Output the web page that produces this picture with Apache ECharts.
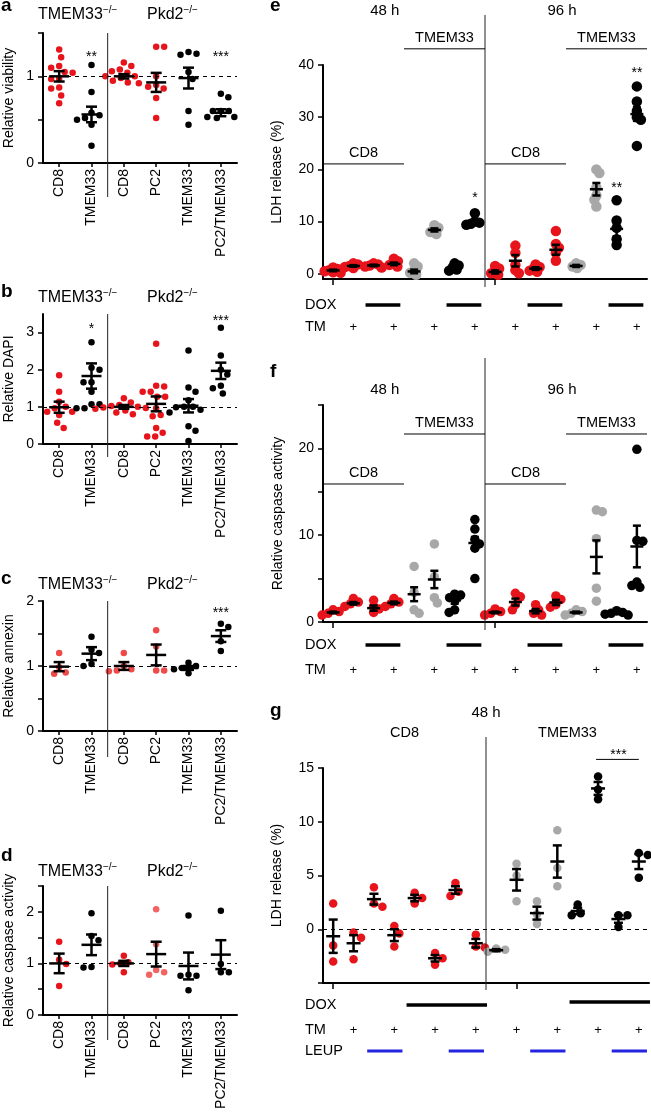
<!DOCTYPE html>
<html><head><meta charset="utf-8">
<script src="https://cdn.jsdelivr.net/npm/echarts@6/dist/echarts.min.js"></script>
<style>html,body{margin:0;padding:0;background:#fff}#c{width:651px;height:1118px}</style>
</head><body><div id="c"></div>
<script>
// ================= DATA =================
const leftCategories = ['CD8', 'TMEM33', 'CD8', 'PC2', 'TMEM33', 'PC2/TMEM33'];

// a: Relative viability
const aPoints = [
  [1.31, 1.22, 1.12, 1.10, 1.05, 1.04, 0.97, 0.97, 0.87, 0.86, 0.78, 0.69],
  [1.13, 0.82, 0.58, 0.55, 0.52, 0.50, 0.44, 0.20],
  [1.16, 1.12, 1.08, 1.06, 1.04, 1.00, 1.00, 0.98, 0.95, 0.93, 0.92],
  [1.34, 1.34, 1.00, 0.90, 0.88, 0.86, 0.75, 0.52],
  [1.28, 1.26, 1.25, 1.05, 0.97, 0.60, 0.44],
  [0.80, 0.76, 0.60, 0.60, 0.60, 0.53, 0.53, 0.52]
];
const aMean = [1.00, 0.56, 1.00, 0.93, 0.98, 0.58];
const aSem = [0.06, 0.09, 0.025, 0.11, 0.12, 0.04];
const aTicks = [0, 0.5, 1, 1.5];
const aTickLabels = [0, 1];

// b: Relative DAPI
const bPoints = [
  [1.85, 1.41, 1.14, 1.00, 0.96, 0.87, 0.87, 0.78, 0.57, 0.43],
  [2.74, 2.05, 2.0, 1.66, 1.66, 1.41, 1.07, 1.07, 0.96, 0.96],
  [1.23, 1.12, 1.05, 1.02, 1.00, 0.98, 0.97, 0.95, 0.90, 0.85, 0.80],
  [2.70, 1.57, 1.55, 1.41, 1.41, 1.27, 1.27, 0.96, 0.78, 0.75, 0.43, 0.30, 0.20, 0.20],
  [2.52, 1.52, 1.41, 1.18, 1.00, 1.00, 0.99, 0.92, 0.85, 0.48, 0.36, 0.08],
  [3.13, 2.38, 2.00, 1.87, 1.57, 1.50, 1.36]
];
const bMean = [0.99, 1.83, 1.00, 1.08, 1.03, 1.97];
const bSem = [0.15, 0.34, 0.05, 0.2, 0.18, 0.22];
const bTicks = [0, 1, 2, 3];
const bTickLabels = [0, 1, 2, 3];

// c: Relative annexin
const cPoints = [
  [1.20, 0.98, 0.90, 0.88],
  [1.45, 1.25, 1.20, 1.03, 1.00],
  [1.20, 1.00, 0.95, 0.93, 0.92],
  [1.55, 1.30, 0.93, 0.93],
  [1.05, 1.00, 0.97, 0.95, 0.89],
  [1.65, 1.60, 1.38, 1.23]
];
const cMean = [0.99, 1.19, 1.00, 1.17, 0.97, 1.46];
const cSem = [0.07, 0.1, 0.06, 0.16, 0.03, 0.09];
const cTicks = [0, 0.5, 1, 1.5, 2];
const cTickLabels = [0, 1, 2];

// d: Relative caspase activity
const dPoints = [
  [1.42, 1.07, 0.99, 0.56],
  [1.97, 1.53, 1.45, 0.93, 0.92],
  [1.15, 1.02, 1.00, 0.98, 0.83],
  [2.05, 1.37, 0.87, 0.83, 0.78],
  [1.93, 0.78, 0.76, 0.76, 0.48],
  [2.02, 0.99, 0.83, 0.83]
];
const dMean = [1.00, 1.36, 1.00, 1.18, 0.95, 1.17];
const dSem = [0.19, 0.2, 0.05, 0.24, 0.26, 0.28];
const dTicks = [0, 0.5, 1, 1.5, 2, 2.5];
const dTickLabels = [0, 1, 2];

// e, f: 16 conditions (48 h / 96 h, CD8 / TMEM33, DOX, TM)
const rightCategories = [
  'CD8 48h', 'CD8 48h TM', 'CD8 48h DOX', 'CD8 48h DOX TM',
  'TMEM33 48h', 'TMEM33 48h TM', 'TMEM33 48h DOX', 'TMEM33 48h DOX TM',
  'CD8 96h', 'CD8 96h TM', 'CD8 96h DOX', 'CD8 96h DOX TM',
  'TMEM33 96h', 'TMEM33 96h TM', 'TMEM33 96h DOX', 'TMEM33 96h DOX TM'
];
const rightConstruct = ['CD8','CD8','CD8','CD8','TMEM33','TMEM33','TMEM33','TMEM33',
                        'CD8','CD8','CD8','CD8','TMEM33','TMEM33','TMEM33','TMEM33'];
const rightDox = [0,0,1,1,0,0,1,1,0,0,1,1,0,0,1,1];
const rightTm  = [0,1,0,1,0,1,0,1,0,1,0,1,0,1,0,1];

// e: LDH release (%)
const ePoints = [
  [1.2, 0.9, 0.7, 0.5, 0.3, 0.2],
  [2.0, 1.8, 1.5, 1.3, 1.1],
  [2.0, 1.8, 1.6, 1.4, 1.2],
  [2.9, 2.4, 2.0, 1.7, 1.4],
  [2.0, 1.4, 0.6, 0.2, -0.2],
  [9.3, 8.8, 8.4, 8.0, 7.6],
  [2.0, 1.6, 1.2, 0.8, 0.6],
  [11.6, 10.0, 9.8, 9.6, 9.4],
  [1.5, 1.0, 0.5, 0.1, -0.2],
  [5.4, 4.0, 1.7, 0.7, 0.1],
  [1.8, 1.3, 1.0, 0.6, 0.4],
  [8.2, 5.7, 5.0, 4.0, 2.5],
  [2.0, 1.7, 1.4, 1.1],
  [20.0, 19.3, 16.5, 15.0, 14.2, 12.9],
  [14.1, 10.2, 8.8, 6.6, 5.5],
  [35.9, 33.0, 31.2, 30.0, 29.5, 24.5]
];
const eMean = [0.64, 1.5, 1.6, 1.9, 0.45, 8.4, 1.1, 9.8, 0.35, 2.5, 1.0, 4.6, 1.5, 16.2, 8.6, 30.6];
const eSem = [0.15, 0.15, 0.15, 0.25, 0.35, 0.3, 0.25, 0.4, 0.3, 1.1, 0.25, 0.95, 0.2, 1.2, 1.4, 1.3];
const eTicks = [0, 10, 20, 30, 40];
const eTickLabels = [0, 10, 20, 30, 40];

// f: Relative caspase activity
const fPoints = [
  [1.4, 1.2, 1.0, 0.8],
  [2.7, 2.3, 2.1, 1.8],
  [2.5, 1.8, 1.5, 1.1],
  [2.7, 2.3, 2.1, 1.8],
  [6.4, 3.4, 1.4, 1.0],
  [9.0, 5.2, 2.8, 2.2],
  [3.2, 3.1, 2.8, 2.5, 1.4, 1.1],
  [11.8, 10.7, 9.5, 9.0, 8.5, 5.0],
  [1.5, 1.2, 1.0, 0.8],
  [3.3, 2.9, 2.0, 1.4],
  [2.0, 1.4, 1.0, 0.8],
  [3.0, 2.6, 2.0, 1.7],
  [1.4, 1.2, 1.0, 0.8],
  [12.9, 12.7, 9.6, 3.9, 2.4],
  [1.3, 1.1, 1.0, 0.9, 0.8],
  [19.9, 9.4, 9.3, 4.6, 4.2, 4.0]
];
const fMean = [1.1, 2.15, 1.6, 2.2, 3.2, 4.9, 2.5, 9.1, 1.1, 2.3, 1.25, 2.25, 1.1, 7.5, 1.0, 8.7];
const fSem = [0.1, 0.15, 0.3, 0.15, 0.8, 1.0, 0.4, 0.7, 0.1, 0.4, 0.25, 0.3, 0.1, 1.9, 0.1, 2.4];
const fTicks = [0, 5, 10, 15, 20, 25];
const fTickLabels = [0, 10, 20];

// g: 48 h, CD8 / TMEM33, TM, LEUP, DOX
const gCategories = [
  'CD8', 'CD8 TM', 'CD8 LEUP', 'CD8 TM LEUP', 'CD8 DOX', 'CD8 DOX TM', 'CD8 DOX LEUP', 'CD8 DOX TM LEUP',
  'TMEM33', 'TMEM33 TM', 'TMEM33 LEUP', 'TMEM33 TM LEUP', 'TMEM33 DOX', 'TMEM33 DOX TM', 'TMEM33 DOX LEUP', 'TMEM33 DOX TM LEUP'
];
const gConstruct = ['CD8','CD8','CD8','CD8','CD8','CD8','CD8','CD8',
                    'TMEM33','TMEM33','TMEM33','TMEM33','TMEM33','TMEM33','TMEM33','TMEM33'];
const gDox  = [0,0,0,0,1,1,1,1,0,0,0,0,1,1,1,1];
const gTm   = [0,1,0,1,0,1,0,1,0,1,0,1,0,1,0,1];
const gLeup = [0,0,1,1,0,0,1,1,0,0,1,1,0,0,1,1];
const gPoints = [
  [2.4, -1.5, -3.0],
  [-0.3, -0.8, -2.8],
  [3.9, 2.4, 2.1],
  [0.3, -0.4, -1.6],
  [3.4, 2.9, 2.4],
  [-2.2, -2.7, -3.3],
  [4.3, 3.5, 3.1],
  [-0.5, -1.6, -1.7],
  [-1.8, -1.9, -2.1],
  [6.1, 5.0, 2.6],
  [2.6, 1.4, 0.5],
  [9.2, 5.7, 4.0],
  [2.3, 1.5, 1.3],
  [14.2, 13.0, 12.1],
  [1.3, 1.3, 0.2],
  [7.1, 6.9, 4.8]
];
const gMean = [-0.65, -1.3, 2.8, -0.55, 2.9, -2.7, 3.65, -1.3, -1.95, 4.6, 1.5, 6.3, 1.7, 13.1, 0.95, 6.3];
const gSem = [1.55, 0.75, 0.5, 0.55, 0.3, 0.3, 0.35, 0.4, 0.1, 1.0, 0.6, 1.5, 0.3, 0.6, 0.35, 0.7];
const gTicks = [-5, 0, 5, 10, 15];
const gTickLabels = [0, 5, 10, 15];

// significance marks: [category, value level, text]
const aStars = [[1, 1.254, '**'], [5, 1.254, '***']];
const bStars = [[1, 3.16, '*'], [5, 3.38, '***']];
const cStars = [[5, 1.86, '***']];
const eStars = [[7, 15.1, '*'], [14, 16.9, '**'], [15, 39.1, '**']];

// ================= STYLE / LAYOUT =================
const FF = 'Liberation Sans, Arial, Helvetica, sans-serif';
const FFC = '"Liberation Sans", Arial, Helvetica, sans-serif';
const RED = '#e8141c', GRAY = '#a8a8a8', BLACK = '#000000';

const panels = [
  {key:'a', grid:{left:43, top:33, width:194, height:130}, min:0, max:1.5, ticks:aTicks, labels:aTickLabels,
   name:'Relative viability', nameGap:27, side:'L', cats:leftCategories, pts:aPoints, mean:aMean, sem:aSem, dash:1, stars:aStars},
  {key:'b', grid:{left:43, top:314, width:194, height:130}, min:0, max:3.5, ticks:bTicks, labels:bTickLabels,
   name:'Relative DAPI', nameGap:27, side:'L', cats:leftCategories, pts:bPoints, mean:bMean, sem:bSem, dash:1, stars:bStars},
  {key:'c', grid:{left:43, top:601, width:194, height:130}, min:0, max:2, ticks:cTicks, labels:cTickLabels,
   name:'Relative annexin', nameGap:27, side:'L', cats:leftCategories, pts:cPoints, mean:cMean, sem:cSem, dash:1, stars:cStars},
  {key:'d', grid:{left:43, top:886, width:194, height:129}, min:0, max:2.5, ticks:dTicks, labels:dTickLabels,
   name:'Relative caspase activity', nameGap:27, side:'L', cats:leftCategories, pts:dPoints, mean:dMean, sem:dSem, dash:1, stars:[]},
  {key:'e', grid:{left:323, top:65, width:324, height:214}, min:-1, max:40, ticks:eTicks, labels:eTickLabels,
   name:'LDH release (%)', nameGap:39, side:'R', cats:rightCategories, pts:ePoints, mean:eMean, sem:eSem, dash:null, stars:eStars},
  {key:'f', grid:{left:323, top:405, width:324, height:217}, min:0, max:25, ticks:fTicks, labels:fTickLabels,
   name:'Relative caspase activity', nameGap:38, side:'R', cats:rightCategories, pts:fPoints, mean:fMean, sem:fSem, dash:null, stars:[]},
  {key:'g', grid:{left:323, top:768, width:326, height:215}, min:-5, max:15, ticks:gTicks, labels:gTickLabels,
   name:'LDH release (%)', nameGap:39, side:'R', cats:gCategories, pts:gPoints, mean:gMean, sem:gSem, dash:0, stars:[]}
];
const look = {
  a:{dot:6.5, sep:8, hw:10, cw:5.5}, b:{dot:6.5, sep:8, hw:10, cw:5.5},
  c:{dot:6.5, sep:8, hw:10, cw:5.5}, d:{dot:6.5, sep:8, hw:10, cw:5.5},
  e:{dot:10.5, sep:4.5, hw:6.5, cw:4}, f:{dot:9.5, sep:6, hw:6.5, cw:4}, g:{dot:8.5, sep:9, hw:7, cw:4.5}
};

function colorFor(p, cat) {
  if (p.side === 'L') {
    if (p.cats[cat].indexOf('TMEM33') >= 0) return BLACK;
    if (p.key === 'c') return '#ef4a4a';
    if (p.key === 'd' && cat === 3) return '#f26464';
    return RED;
  }
  const cons = p.key === 'g' ? gConstruct : rightConstruct;
  const dox = p.key === 'g' ? gDox : rightDox;
  if (cons[cat] === 'CD8') return RED;
  return dox[cat] ? BLACK : GRAY;
}

// beeswarm offsets (pixels) so overlapping dots spread sideways
function swarm(vals, ppu, sep) {
  const order = vals.map((v, i) => i).sort((a, b) => vals[b] - vals[a]);
  const placed = [], off = new Array(vals.length).fill(0);
  let bal = 0;
  order.forEach(i => {
    const y = vals[i] * ppu;
    const ok = dx => placed.every(p => (p.x - dx) ** 2 + (p.y - y) ** 2 >= sep * sep - 1e-6);
    let chosen = 0;
    outer: for (let m = 0; m <= 400; m++) {
      const a = m * 0.5;
      const cands = m === 0 ? [0] : (bal <= 0 ? [a, -a] : [-a, a]);
      for (const c of cands) { if (ok(c)) { chosen = c; break outer; } }
    }
    off[i] = chosen; bal += chosen;
    placed.push({x: chosen, y});
  });
  return off;
}

const chart = echarts.init(document.getElementById('c'), null, {renderer: 'canvas'});
const grids = [], xAxes = [], yAxes = [], series = [];

panels.forEach((p, i) => {
  const L = look[p.key];
  grids.push(Object.assign({outerBoundsMode: 'none', containLabel: false}, p.grid));
  xAxes.push({
    gridIndex: i, type: 'category', data: p.cats, boundaryGap: true,
    axisLine: {show: true, onZero: false, lineStyle: {color: '#000', width: 2}},
    axisTick: {show: true, alignWithLabel: true, length: p.side === 'L' ? 4 : 6, lineStyle: {color: '#000', width: 1.5}},
    axisLabel: p.side === 'L'
      ? {show: true, interval: 0, rotate: 90, margin: 6, fontSize: 14, color: '#000', fontFamily: FF}
      : {show: false},
    splitLine: {show: false}
  });
  yAxes.push({
    gridIndex: i, type: 'value', min: p.min, max: p.max,
    axisLine: {show: true, lineStyle: {color: '#000', width: 2}},
    axisTick: {show: true, length: 5, customValues: p.ticks, lineStyle: {color: '#000', width: 1.5}},
    axisLabel: {show: true, customValues: p.labels, fontSize: 14, color: '#000', fontFamily: FF, margin: 9},
    splitLine: {show: false},
    name: p.name, nameLocation: 'middle', nameGap: p.nameGap, nameRotate: 90,
    nameTextStyle: {fontSize: 14, color: '#000', fontFamily: FF}
  });
  const ppu = p.grid.height / (p.max - p.min);
  const items = [];
  p.pts.forEach((vals, cat) => {
    const off = swarm(vals, ppu, L.sep);
    vals.forEach((v, k) => items.push({
      value: [cat, v], symbolOffset: [off[k], 0], itemStyle: {color: colorFor(p, cat), opacity: 1}
    }));
  });
  const sc = {
    type: 'scatter', xAxisIndex: i, yAxisIndex: i, symbol: 'circle', symbolSize: L.dot,
    data: items, z: 2, silent: true, animation: false
  };
  if (p.dash !== null) {
    sc.markLine = {
      silent: true, symbol: ['none', 'none'], label: {show: false}, animation: false,
      lineStyle: {type: [4, 4], color: '#000', width: 1, opacity: 1},
      emphasis: {disabled: true},
      data: [{yAxis: p.dash}]
    };
  }
  series.push(sc);
  series.push({
    type: 'custom', xAxisIndex: i, yAxisIndex: i, z: 3, silent: true, animation: false, clip: false,
    data: p.mean.map((m, cat) => [cat, m, p.sem[cat]]),
    renderItem: function (params, api) {
      const x = api.value(0), m = api.value(1), s = api.value(2);
      const c = api.coord([x, m]), t = api.coord([x, m + s]), b = api.coord([x, m - s]);
      const st = {stroke: '#000', lineWidth: 2.5};
      return {type: 'group', children: [
        {type: 'line', shape: {x1: c[0] - L.hw, y1: c[1], x2: c[0] + L.hw, y2: c[1]}, style: st},
        {type: 'line', shape: {x1: c[0], y1: t[1], x2: c[0], y2: b[1]}, style: st},
        {type: 'line', shape: {x1: c[0] - L.cw, y1: t[1], x2: c[0] + L.cw, y2: t[1]}, style: st},
        {type: 'line', shape: {x1: c[0] - L.cw, y1: b[1], x2: c[0] + L.cw, y2: b[1]}, style: st}
      ]};
    }
  });
});

chart.setOption({
  animation: false, backgroundColor: '#fff',
  grid: grids, xAxis: xAxes, yAxis: yAxes, series: series
});

// ================= ANNOTATIONS (placed through the axes) =================
const G = [];
function T(x, y, text, o) {
  o = o || {};
  const style = {
    text: text, fill: '#000',
    font: (o.w ? o.w + ' ' : '') + (o.s || 14) + 'px ' + FFC,
    align: o.a || 'center', verticalAlign: o.v || 'middle',
    textAlign: o.a || 'center', textVerticalAlign: o.v || 'middle'
  };
  if (o.rich) style.rich = o.rich;
  G.push({type: 'text', x: x, y: y, silent: true, z: 10, style: style});
}
function Ln(x1, y1, x2, y2, w, c) {
  G.push({type: 'line', silent: true, z: 10, shape: {x1, y1, x2, y2}, style: {stroke: c || '#000', lineWidth: w || 1}});
}
const P = (i, x, y) => chart.convertToPixel({gridIndex: i}, [x, y]);
const cx = (i, k) => P(i, k, 0)[0];
const vy = (i, v) => P(i, 0, v)[1];

const rich = {
  m: {fontSize: 16, fontFamily: FF, lineHeight: 20, fill: '#000'},
  s: {fontSize: 10, fontFamily: FF, lineHeight: 11, verticalAlign: 'top', fill: '#000'}
};
// panel letters
[['a', 1, 5.5], ['b', 1, 292], ['c', 1, 579], ['d', 1, 856], ['e', 270, 6], ['f', 270, 372], ['g', 270, 711]]
  .forEach(l => T(l[1], l[2], l[0], {w: 'bold', s: 19, a: 'left'}));

// left panels
const leftTitleY = [15, 298, 585, 872];
const leftSepExt = [34, 13, 26, 25];
[0, 1, 2, 3].forEach(i => {
  const p = panels[i];
  T(38, leftTitleY[i], '{m|TMEM33}{s|−/−}', {a: 'left', rich: rich});
  T(147, leftTitleY[i], '{m|Pkd2}{s|−/−}', {a: 'left', rich: rich});
  const sx = (cx(i, 1) + cx(i, 2)) / 2;
  Ln(sx, p.grid.top, sx, p.grid.top + p.grid.height + leftSepExt[i], 1, '#222');
  p.stars.forEach(s => { const q = P(i, s[0], s[1]); T(q[0], q[1] + 3, s[2], {s: 14}); });
});

// e and f
[4, 5].forEach(i => {
  const p = panels[i];
  const bw = cx(i, 1) - cx(i, 0);
  const edge = k => cx(i, k) - bw / 2;         // left boundary of category k
  const bottom = p.grid.top + p.grid.height;
  const sx = edge(8);
  const cd8Y = vy(i, i === 4 ? 21.05 : 15.9), tmY = vy(i, i === 4 ? 43.1 : 21.66);
  Ln(sx, i === 4 ? 15 : 358, sx, bottom + 8, 1, '#222');
  const hourY = i === 4 ? 11 : 390;
  T((cx(i, 2) + cx(i, 3)) / 2 + 1, hourY, '48 h', {s: 15});
  T((cx(i, 11) + cx(i, 12)) / 2 - 4, hourY, '96 h', {s: 15});
  [[0, 4, cd8Y, 'CD8'], [4, 8, tmY, 'TMEM33'], [8, 12, cd8Y, 'CD8'], [12, 16, tmY, 'TMEM33']].forEach(g => {
    const x1 = edge(g[0]), x2 = edge(g[1]);
    Ln(x1, g[2], x2, g[2], 1, '#000');
    T((x1 + x2) / 2, g[2] - 11, g[3], {s: 14.5});
  });
  const doxY = bottom + (i === 4 ? 26 : 23), tmRowY = bottom + 48;
  T(305, doxY, 'DOX', {a: 'left', s: 14.5});
  T(305, tmRowY, 'TM', {a: 'left', s: 14.5});
  for (let k = 0; k < 16; k++) {
    if (rightDox[k] && !rightDox[k - 1]) {
      let e = k; while (rightDox[e + 1]) e++;
      Ln(cx(i, k) - 0.4 * bw, doxY, cx(i, e) + 0.32 * bw, doxY, 3.5);
    }
    if (rightTm[k]) T(cx(i, k), tmRowY, '+', {s: 13});
  }
  p.stars.forEach(s => { const q = P(i, s[0], s[1]); T(q[0], q[1] + 3, s[2], {s: 14}); });
});

// g
(function () {
  const i = 6, p = panels[i];
  const bw = cx(i, 1) - cx(i, 0);
  const edge = k => cx(i, k) - bw / 2;
  const bottom = p.grid.top + p.grid.height;
  const sx = edge(8);
  Ln(sx, 737, sx, bottom + 7, 1, '#222');
  T(sx, 713, '48 h', {s: 15});
  T((edge(0) + edge(8)) / 2, 733, 'CD8', {s: 14.5});
  T((edge(8) + p.grid.left + p.grid.width) / 2, 733, 'TMEM33', {s: 14.5});
  // *** bracket over TMEM33 +DOX groups
  const by = vy(i, 15.8);
  Ln(cx(i, 13) - 2, by, cx(i, 15), by, 1);
  T((cx(i, 13) + cx(i, 15)) / 2, vy(i, 16.5) + 3, '***');
  const doxY = [bottom + 22, bottom + 19], tmRowY = bottom + 47, leupY = bottom + 68;
  T(305, bottom + 22, 'DOX', {a: 'left', s: 14.5});
  T(305, tmRowY, 'TM', {a: 'left', s: 14.5});
  T(305, leupY, 'LEUP', {a: 'left', s: 14.5});
  let run = 0;
  for (let k = 0; k < 16; k++) {
    if (gDox[k] && !gDox[k - 1]) {
      let e = k; while (gDox[e + 1]) e++;
      Ln(cx(i, k) - 0.4 * bw, doxY[run], cx(i, e) + 0.55 * bw, doxY[run], 3.5);
      run++;
    }
    if (gLeup[k] && !gLeup[k - 1]) {
      let e = k; while (gLeup[e + 1]) e++;
      Ln(cx(i, k) - 0.33 * bw, leupY, cx(i, e) + 0.4 * bw, leupY, 3, '#2323e0');
    }
    if (gTm[k]) T(cx(i, k), tmRowY, '+', {s: 13});
  }
})();

chart.setOption({graphic: G});
</script>
</body></html>
